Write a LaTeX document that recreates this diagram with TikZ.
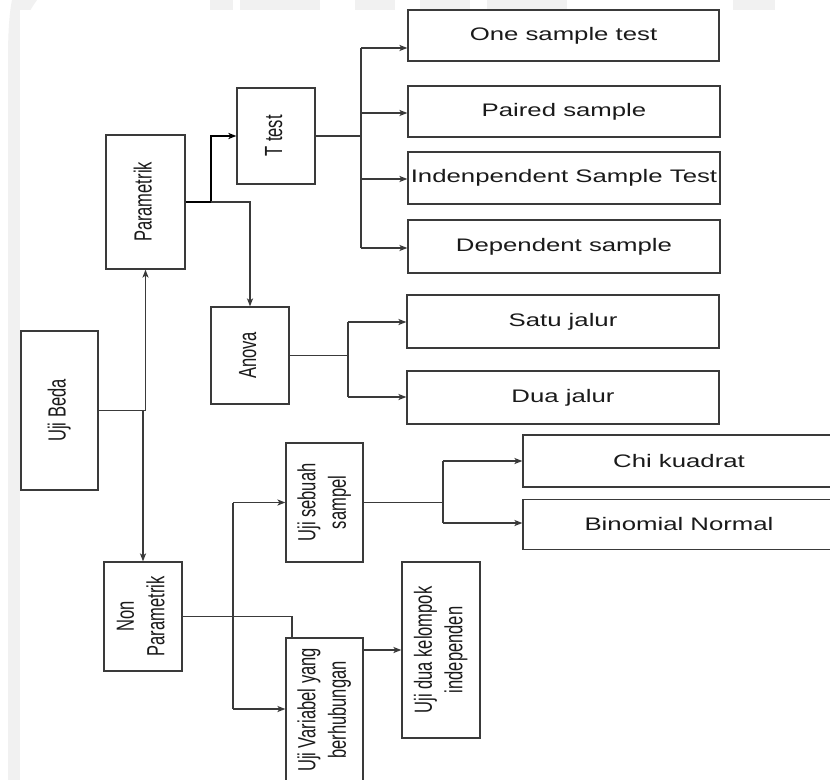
\documentclass[tikz,border=0pt]{standalone}
\usepackage{fontspec}
\usepackage{graphicx}
\setmainfont{Liberation Sans}
% wide face for horizontal labels, tall face for the upright (rotated) labels
\newfontfamily\widefont{Liberation Sans}[FakeStretch=1.42]
\newfontfamily\tallfont{Liberation Sans}[FakeStretch=0.667]
\usetikzlibrary{arrows.meta}

\definecolor{ink}{HTML}{1A1A1A}
\definecolor{edge}{HTML}{3A3A3A}
\definecolor{wm}{HTML}{F1F1F1}

\newcommand{\vlabel}[1]{\rotatebox{90}{\begin{tabular}{@{}c@{}}#1\end{tabular}}}

\tikzset{
  box/.style={draw=edge, line width=1pt, fill=white, inner sep=0pt, text=ink, align=center},
  sz/.style 2 args={minimum width=#1*0.75pt, minimum height=#2*0.75pt},
  hbox/.style={box, font=\widefont\fontsize{13.6}{16.3}\selectfont},
  vbox/.style={box, font=\tallfont\fontsize{18.6}{23}\selectfont},
  link/.style={draw=edge, line width=0.85pt},
  arr/.style={link, -{Stealth[length=6pt,width=4.6pt,inset=1.6pt]}},
  boldarr/.style={arr, draw=black, line width=1.5pt},
}

\begin{document}
\begin{tikzpicture}[x=0.75pt,y=-0.75pt]
\useasboundingbox (0,0) rectangle (830,780);
\clip (0,0) rectangle (830,780);

% page background with the faint logo in the margin
\fill[white] (0,0) rectangle (830,780);
\fill[wm] (12,0) -- (37,0) .. controls (26,15) and (20,30) .. (20,60) -- (20,780)
  -- (8,780) -- (8,60) .. controls (8,35) and (9,15) .. (12,0) -- cycle;
\fill[wm] (210,0) rectangle (233,10);
\fill[wm] (240,0) rectangle (320,10);
\fill[wm] (355,0) rectangle (395,10);
\fill[wm] (420,0) rectangle (470,10);
\fill[wm] (487,0) rectangle (567,10);
\fill[wm] (733,0) rectangle (775,10);
\fill[white] (20,10) rectangle (830,780);

% boxes
\node[vbox, sz={77}{159}] (beda) at (59.5,410.5) {\vlabel{Uji Beda}};
\node[vbox, sz={79}{134}] (param) at (145.5,202) {\vlabel{Parametrik}};
\node[vbox, sz={78}{109}] (nonparam) at (143,616.5) {\vlabel{Non\\Parametrik}};
\node[vbox, sz={78}{96}] (ttest) at (276,136) {\vlabel{T test}};
\node[vbox, sz={78}{97}] (anova) at (250,355.5) {\vlabel{Anova}};
\node[vbox, sz={77}{119}] (sebuah) at (324.5,502.5) {\vlabel{Uji sebuah\\sampel}};
\node[vbox, sz={77}{144}] (variabel) at (324.5,710) {\vlabel{Uji Variabel yang\\berhubungan}};
\node[vbox, sz={78}{176}] (dua) at (441,650) {\vlabel{Uji dua kelompok\\independen}};

\node[hbox, sz={311}{51}] (one) at (563.5,35.5) {One sample test};
\node[hbox, sz={312}{51}] (paired) at (564,111.5) {Paired sample};
\node[hbox, sz={312}{52}] (indep) at (564,178) {Indenpendent Sample Test};
\node[hbox, sz={312}{53}] (dep) at (564,246.5) {Dependent sample};
\node[hbox, sz={312}{53}] (satu) at (563,321.5) {Satu jalur};
\node[hbox, sz={312}{53}] (duaj) at (563,397.5) {Dua jalur};
\node[hbox, sz={312}{52}] (chi) at (679,461) {Chi kuadrat};
\node[hbox, sz={312}{50}] (binom) at (679,524.5) {Binomial Normal};

% Uji Beda -> Parametrik / Non Parametrik
\draw[arr] (beda.east) -| (param.south);
\draw[arr] (beda.east) -| (nonparam.north);

% Parametrik -> T test / Anova
\draw[boldarr] (param.east) -- ++(25,0) coordinate (j1) |- (ttest.west);
\draw[arr] (j1) -| (anova.north);

% T test -> four sample tests
\coordinate (a1) at (361,48);
\coordinate (a2) at (361,113);
\coordinate (a3) at (361,179);
\coordinate (a4) at (361,248);
\draw[link] (ttest.east) -- (ttest.east -| a1);
\draw[link] (a1) -- (a4);
\draw[arr] (a1) -- (a1 -| one.west);
\draw[arr] (a2) -- (a2 -| paired.west);
\draw[arr] (a3) -- (a3 -| indep.west);
\draw[arr] (a4) -- (a4 -| dep.west);

% Anova -> Satu jalur / Dua jalur
\coordinate (b1) at (348,322);
\coordinate (b2) at (348,397);
\draw[link] (anova.east) -- (anova.east -| b1);
\draw[link] (b1) -- (b2);
\draw[arr] (b1) -- (b1 -| satu.west);
\draw[arr] (b2) -- (b2 -| duaj.west);

% Uji sebuah sampel -> Chi kuadrat / Binomial Normal
\coordinate (c1) at (443,461);
\coordinate (c2) at (443,523);
\draw[link] (sebuah.east) -- (sebuah.east -| c1);
\draw[link] (c1) -- (c2);
\draw[arr] (c1) -- (c1 -| chi.west);
\draw[arr] (c2) -- (c2 -| binom.west);

% Non Parametrik -> Uji sebuah sampel / Uji Variabel yang berhubungan
\coordinate (vtop) at (292,638);
\draw[link] (nonparam.east) -| (vtop);
\coordinate (e1) at (233,502.5);
\coordinate (e2) at (233,709);
\draw[link] (e1) -- (e2);
\draw[arr] (e1) -- (sebuah.west);
\draw[arr] (e2) -- (e2 -| variabel.west);

% Uji Variabel yang berhubungan -> Uji dua kelompok independen
\coordinate (f1) at (363,650);
\draw[arr] (f1) -- (f1 -| dua.west);
\end{tikzpicture}
\end{document}
